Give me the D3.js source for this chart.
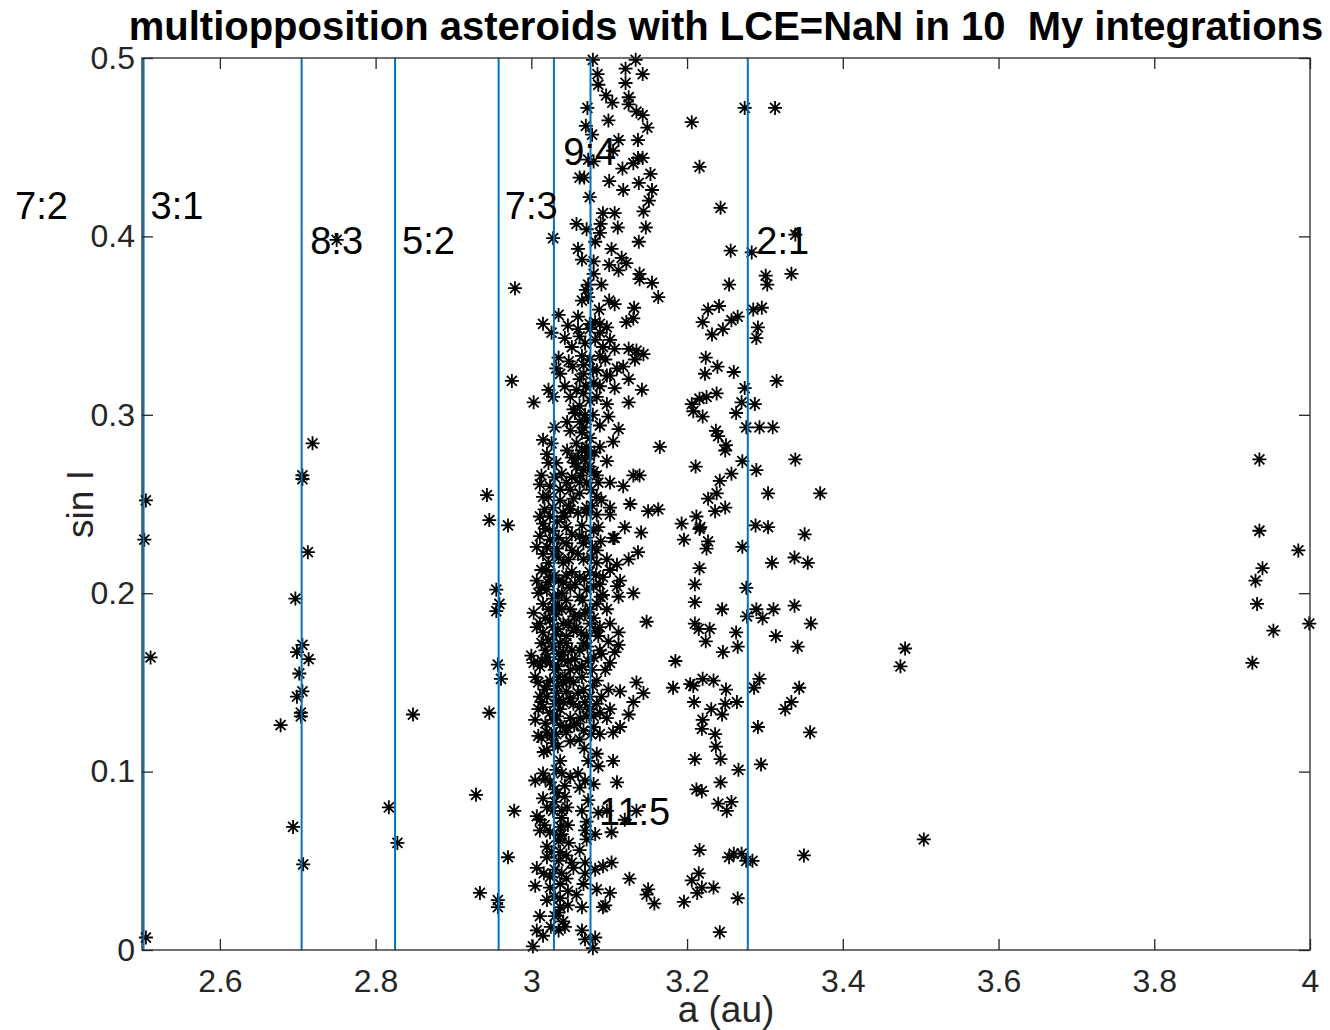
<!DOCTYPE html>
<html>
<head>
<meta charset="utf-8">
<script src="https://cdn.jsdelivr.net/npm/d3@7"></script>
<style>
  body { margin: 0; background: #fff; }
  text { font-family: "Liberation Sans", Arial, Helvetica, sans-serif; }
</style>
</head>
<body>
<div id="chart"></div>
<script>
// resonances: name, location of the line (au), where the label sits
var resNames = ["7:2", "3:1", "8:3", "5:2", "7:3", "9:4", "11:5", "2:1"]
var resA = [2.256, 2.502, 2.705, 2.825, 2.958, 3.029, 3.076, 3.278]
var resLabelA = [2.337, 2.511, 2.716, 2.834, 2.966, 3.041, 3.087, 3.289]
var resLabelS = [0.42, 0.42, 0.40, 0.40, 0.42, 0.45, 0.08, 0.40]

var xTicks = [2.6, 2.8, 3, 3.2, 3.4, 3.6, 3.8, 4]
var yTicks = [0, 0.1, 0.2, 0.3, 0.4, 0.5]

// [a, sin I]
var innerPts = [[2.719,0.284],[2.706,0.266],[2.706,0.264],[2.505,0.252],[2.503,0.230],[2.713,0.223],[2.697,0.197],[2.511,0.164],
  [2.706,0.171],[2.699,0.167],[2.714,0.163],[2.702,0.155],[2.706,0.145],[2.699,0.142],[2.704,0.133],[2.704,0.131],[2.678,0.126],
  [2.848,0.132],[2.817,0.080],[2.828,0.060],[2.694,0.069],[2.707,0.048],[2.505,0.007],[2.750,0.398]]

var gap73Pts = [[2.943,0.255],[2.946,0.241],[2.970,0.238],[2.955,0.202],[2.959,0.194],[2.955,0.190],[2.957,0.160],[2.961,0.152],
  [2.946,0.133],[2.929,0.087],[2.978,0.078],[2.970,0.052],[2.934,0.032],[2.957,0.028],[2.957,0.024],[2.979,0.371],[2.975,0.319],
  [3.003,0.307],[3.002,0.002]]

var clusterTop = [[3.079,0.499],[3.134,0.499],[3.121,0.494],[3.143,0.491],[3.085,0.491],[3.086,0.485],[3.121,0.486],[3.096,0.479],
  [3.104,0.475],[3.125,0.478],[3.125,0.474],[3.135,0.470],[3.143,0.468],[3.149,0.461],[3.072,0.472],[3.099,0.465],[3.070,0.462],
  [3.078,0.457],[3.112,0.454],[3.137,0.454],[3.105,0.448],[3.137,0.444],[3.143,0.444],[3.131,0.441],[3.080,0.442],[3.073,0.443],
  [3.117,0.438],[3.153,0.435],[3.062,0.433],[3.068,0.433],[3.100,0.431],[3.138,0.430],[3.118,0.426],[3.155,0.426],[3.075,0.422],
  [3.151,0.420],[3.144,0.414],[3.092,0.413],[3.107,0.413],[3.058,0.407],[3.089,0.407],[3.071,0.404],[3.111,0.405],[3.147,0.405],
  [3.088,0.402],[3.082,0.397],[3.028,0.399],[3.138,0.397],[3.060,0.393],[3.103,0.393],[3.065,0.387],[3.080,0.386],[3.116,0.388],
  [3.100,0.384],[3.122,0.385],[3.112,0.381],[3.080,0.379],[3.139,0.379],[3.139,0.376],[3.155,0.374],[3.090,0.373],[3.073,0.373],
  [3.163,0.366],[3.070,0.370],[3.073,0.366],[3.100,0.364],[3.107,0.362],[3.065,0.364],[3.132,0.360],[3.087,0.359],[3.035,0.356],
  [3.060,0.355],[3.015,0.351],[3.047,0.350],[3.082,0.352],[3.122,0.352],[3.131,0.354]]

var clusterUpper = [[3.026,0.346],[3.075,0.351],[3.088,0.351],[3.043,0.343],[3.062,0.344],[3.082,0.342],[3.101,0.342],[3.107,0.337],
  [3.052,0.338],[3.125,0.337],[3.135,0.336],[3.144,0.334],[3.065,0.333],[3.088,0.333],[3.035,0.332],[3.133,0.331],[3.095,0.331],
  [3.067,0.328],[3.118,0.327],[3.032,0.326],[3.084,0.325],[3.101,0.322],[3.062,0.320],[3.125,0.320],[3.080,0.318],[3.043,0.316],
  [3.107,0.315],[3.022,0.314],[3.142,0.314],[3.067,0.312],[3.028,0.310],[3.125,0.307],[3.097,0.306],[3.062,0.305],[3.056,0.301],
  [3.069,0.300],[3.099,0.299],[3.062,0.296],[3.088,0.294],[3.030,0.293],[3.112,0.292],[3.065,0.290],[3.075,0.287],[3.015,0.286],
  [3.105,0.285],[3.026,0.284],[3.165,0.282],[3.088,0.282],[3.065,0.280],[3.020,0.278],[3.075,0.277],[3.097,0.274],[3.056,0.273],
  [3.032,0.273],[3.067,0.269],[3.039,0.267],[3.013,0.266],[3.084,0.266],[3.131,0.266],[3.139,0.266],[3.101,0.262],[3.118,0.260],
  [3.011,0.261],[3.062,0.262],[3.037,0.258],[3.077,0.258],[3.022,0.254],[3.054,0.253],[3.090,0.252],[3.127,0.250],[3.071,0.248],
  [3.101,0.248],[3.150,0.246],[3.163,0.247],[3.011,0.243],[3.043,0.243],[3.060,0.245],[3.084,0.244],
  [3.054,0.303],[3.071,0.297],[3.050,0.291],[3.058,0.284],[3.071,0.282],[3.052,0.276],[3.069,0.275],[3.058,0.271],[3.075,0.271],
  [3.052,0.265],[3.071,0.262],[3.086,0.262],[3.050,0.258],[3.062,0.256],[3.037,0.252],[3.084,0.254],[3.028,0.248],[3.050,0.247],
  [3.022,0.273],[3.030,0.265],[3.024,0.260],[3.015,0.254],[3.037,0.323],[3.067,0.323],[3.075,0.331],[3.058,0.314],[3.075,0.308],
  [3.088,0.316],[3.097,0.322],[3.110,0.326],[3.075,0.348],[3.088,0.346],[3.060,0.348],[3.097,0.349],
  [3.120,0.237],[3.141,0.234],[3.137,0.223],[3.125,0.219],[3.107,0.231],[3.101,0.213],[3.114,0.207],[3.131,0.200]]

var clusterMid = [[3.148,0.184],[3.135,0.150],[3.144,0.144],[3.131,0.139],[3.112,0.198],[3.110,0.204],[3.088,0.205],[3.092,0.199],
  [3.101,0.183],[3.112,0.178],[3.112,0.171],[3.107,0.167],[3.101,0.161],[3.088,0.168],[3.086,0.176],[3.097,0.191],[3.084,0.194],
  [3.110,0.216],[3.097,0.219],[3.105,0.231],[3.086,0.237],[3.101,0.244],[3.084,0.224],[3.075,0.212],[3.067,0.219],[3.052,0.224],
  [3.062,0.232],[3.045,0.237],[3.015,0.239],[3.011,0.232],[3.020,0.226],[3.035,0.220],[3.013,0.213],[3.024,0.209],[3.045,0.210],
  [3.056,0.205],[3.062,0.198],[3.039,0.200],[3.020,0.202],[3.015,0.194],[3.030,0.192],[3.050,0.191],[3.062,0.187],[3.003,0.189],
  [3.024,0.185],[3.041,0.183],[3.075,0.183],[3.015,0.178],[3.032,0.177],[3.054,0.179],[3.071,0.176],[3.013,0.172],[3.028,0.170],
  [3.045,0.172],[3.062,0.168],[3.000,0.165],[3.020,0.164],[3.039,0.163],[3.056,0.163],[3.073,0.162],[3.011,0.159],[3.030,0.157],
  [3.050,0.157],[3.005,0.153],[3.024,0.151],[3.041,0.150],[3.065,0.153],[3.084,0.151],[3.009,0.150],[3.045,0.145],[3.067,0.146],
  [3.020,0.142],[3.032,0.144],[3.099,0.146],[3.114,0.145],[3.015,0.136],[3.037,0.135],[3.062,0.136],[3.084,0.138],[3.101,0.135],
  [3.005,0.129],[3.028,0.129],[3.050,0.130],[3.071,0.131],[3.097,0.130],[3.114,0.125],[3.125,0.132],[3.020,0.122],[3.045,0.122],
  [3.067,0.123],[3.088,0.121],[3.105,0.122],[3.009,0.120],
  [3.024,0.243],[3.028,0.235],[3.024,0.230],[3.028,0.222],[3.022,0.217],[3.030,0.210],[3.022,0.206],[3.028,0.197],[3.022,0.191],
  [3.032,0.188],[3.028,0.181],[3.022,0.174],[3.035,0.166],[3.024,0.161],[3.035,0.153],[3.020,0.148],[3.030,0.138],[3.024,0.133],
  [3.037,0.126],[3.026,0.120],[3.007,0.226],[3.007,0.207],[3.009,0.200],[3.007,0.181],[3.003,0.161],[3.011,0.142],[3.009,0.135],
  [3.071,0.245],[3.080,0.235],[3.067,0.228],[3.077,0.220],[3.084,0.217],[3.062,0.209],[3.071,0.202],[3.080,0.204],[3.075,0.191],
  [3.058,0.181],[3.082,0.179],[3.067,0.172],[3.080,0.164],[3.065,0.159],[3.054,0.150],[3.075,0.142],[3.054,0.138],[3.075,0.135],
  [3.058,0.127],[3.080,0.125],[3.041,0.245],[3.045,0.228],[3.041,0.217],[3.041,0.206],[3.045,0.196],[3.039,0.191],[3.045,0.176],
  [3.041,0.167],[3.043,0.153],[3.041,0.139],[3.045,0.125],[3.092,0.209],[3.099,0.173],[3.095,0.157],[3.090,0.142]]

// the solid black core around the 9:4 and 11:5 lines
var clusterCore = [[3.017,0.247],[3.033,0.240],[3.048,0.249],[3.065,0.238],[3.078,0.249],
  [3.018,0.236],[3.035,0.231],[3.052,0.233],[3.070,0.231],[3.089,0.229],
  [3.015,0.222],[3.033,0.225],[3.048,0.219],[3.060,0.222],[3.078,0.226],
  [3.019,0.213],[3.035,0.207],[3.052,0.212],[3.068,0.208],[3.083,0.210],
  [3.013,0.203],[3.034,0.199],[3.050,0.203],[3.066,0.196],[3.089,0.198],
  [3.018,0.186],[3.036,0.192],[3.055,0.187],[3.069,0.189],[3.080,0.186],
  [3.011,0.183],[3.034,0.180],[3.048,0.183],[3.064,0.178],[3.088,0.181],
  [3.018,0.168],[3.037,0.172],[3.052,0.168],[3.072,0.170],[3.090,0.166],
  [3.014,0.162],[3.034,0.159],[3.047,0.162],[3.062,0.158],[3.078,0.157],
  [3.017,0.146],[3.033,0.148],[3.049,0.151],[3.060,0.144],[3.079,0.148],
  [3.013,0.139],[3.035,0.140],[3.050,0.141],[3.069,0.139],[3.088,0.133],
  [3.018,0.127],[3.033,0.131],[3.055,0.126],[3.063,0.130],[3.080,0.131],
  [3.016,0.111],[3.034,0.114],[3.050,0.117],[3.068,0.113],
  [3.045,0.262],[3.063,0.266],[3.080,0.268],[3.046,0.280],[3.060,0.276],[3.081,0.279],[3.046,0.296],[3.067,0.293],
  [3.079,0.300],[3.050,0.310],[3.070,0.316],[3.084,0.310],[3.053,0.327],[3.079,0.325],[3.048,0.330],[3.069,0.340],[3.092,0.338],
  [3.018,0.096],[3.033,0.088],[3.050,0.097],[3.020,0.080],[3.046,0.080],[3.024,0.066],[3.047,0.070],[3.026,0.055],
  [3.048,0.060],[3.016,0.043],[3.045,0.040],[3.020,0.028],[3.047,0.025],[3.025,0.013]]

var clusterLow = [[3.185,0.162],[3.182,0.147],[3.204,0.149],[3.105,0.106],[3.110,0.094],[3.126,0.040],[3.150,0.034],[3.148,0.031],
  [3.158,0.026],[3.196,0.027],[3.120,0.073],[3.135,0.078],[3.103,0.066],[3.103,0.049],[3.092,0.047],[3.101,0.032],[3.092,0.024],
  [3.079,0.001],[3.086,0.077],[3.097,0.078],[3.082,0.065],[3.082,0.045],[3.084,0.034],[3.095,0.025],[3.082,0.007],[3.065,0.011],
  [3.069,0.006],[3.011,0.019],[3.007,0.011],[3.015,0.008],[3.035,0.021],[3.041,0.016],[3.035,0.011],[3.065,0.024],[3.058,0.031],
  [3.037,0.029],[3.024,0.035],[3.005,0.036],[3.037,0.037],[3.054,0.046],[3.069,0.043],[3.067,0.037],[3.007,0.046],[3.024,0.041],
  [3.039,0.043],[3.020,0.052],[3.035,0.050],[3.052,0.049],[3.069,0.049],[3.037,0.055],[3.045,0.053],[3.062,0.056],[3.020,0.058],
  [3.035,0.061],[3.071,0.062],[3.039,0.065],[3.037,0.069],[3.069,0.067],[3.011,0.067],[3.011,0.073],[3.017,0.070],[3.007,0.075],
  [3.039,0.074],[3.071,0.072],[3.065,0.078],[3.039,0.078],[3.028,0.078],[3.015,0.085],[3.030,0.083],[3.073,0.084],[3.005,0.095],
  [3.024,0.094],[3.043,0.092],[3.062,0.091],[3.080,0.093],[3.039,0.099],[3.060,0.099],[3.015,0.099],[3.069,0.095],[3.037,0.106],
  [3.073,0.106],[3.084,0.110],[3.086,0.103],[3.020,0.112],[3.013,0.119],[3.032,0.121],[3.062,0.118],[3.077,0.121],[3.043,0.086],
  [3.028,0.116],[3.032,0.101],[3.030,0.090],[3.037,0.064],[3.030,0.045],[3.030,0.030],[3.037,0.024],[3.047,0.033],[3.030,0.019],
  [3.043,0.013]]

var outerPts = [[3.193,0.239],[3.196,0.230],[3.206,0.464],[3.216,0.439],
  [3.274,0.472],[3.313,0.472],[3.243,0.416],[3.339,0.401],[3.256,0.392],[3.283,0.391],[3.301,0.378],[3.303,0.373],[3.334,0.379],
  [3.254,0.373],[3.227,0.359],[3.241,0.361],[3.220,0.352],[3.257,0.353],[3.265,0.355],[3.285,0.359],[3.296,0.360],[3.291,0.349],
  [3.289,0.343],[3.232,0.345],[3.246,0.348],[3.224,0.332],[3.223,0.323],[3.239,0.327],[3.260,0.324],[3.315,0.319],[3.274,0.315],
  [3.238,0.312],[3.206,0.306],[3.216,0.309],[3.225,0.310],[3.208,0.302],[3.220,0.299],[3.270,0.307],[3.287,0.306],[3.263,0.301],
  [3.276,0.293],[3.293,0.293],[3.310,0.293],[3.237,0.291],[3.240,0.288],[3.250,0.283],[3.249,0.280],[3.211,0.271],[3.271,0.274],
  [3.289,0.269],[3.339,0.275],[3.257,0.267],[3.242,0.263],[3.304,0.256],[3.371,0.256],[3.227,0.253],[3.238,0.256],[3.236,0.246],
  [3.249,0.248],[3.212,0.243],[3.288,0.238],[3.304,0.237],[3.217,0.237],
  [3.216,0.236],[3.227,0.229],[3.225,0.225],[3.271,0.226],[3.351,0.233],[3.309,0.217],[3.338,0.220],[3.355,0.217],[3.216,0.214],
  [3.210,0.205],[3.276,0.203],[3.210,0.195],[3.245,0.191],[3.277,0.187],[3.289,0.191],[3.297,0.186],[3.311,0.191],[3.338,0.193],
  [3.359,0.183],[3.210,0.183],[3.215,0.180],[3.229,0.180],[3.263,0.178],[3.224,0.173],[3.246,0.167],[3.265,0.170],[3.314,0.176],
  [3.342,0.170],[3.208,0.148],[3.220,0.152],[3.234,0.151],[3.250,0.146],[3.286,0.147],[3.293,0.152],[3.344,0.147],[3.209,0.139],
  [3.231,0.135],[3.249,0.138],[3.264,0.139],[3.245,0.132],[3.220,0.129],[3.219,0.124],[3.236,0.121],[3.237,0.114],[3.291,0.125],
  [3.326,0.135],[3.334,0.139],[3.358,0.122],[3.210,0.107],[3.243,0.107],[3.266,0.101],[3.295,0.104],[3.243,0.094],[3.212,0.090],
  [3.219,0.089],[3.240,0.082],[3.257,0.083],[3.251,0.078],[3.216,0.056],[3.254,0.052],[3.260,0.054],[3.270,0.054],[3.276,0.050],
  [3.284,0.050],[3.350,0.053],[3.215,0.043],[3.206,0.039],[3.219,0.035],[3.213,0.032],[3.234,0.035],[3.265,0.029],[3.242,0.010]]

var farPts = [[3.935,0.275],[3.935,0.235],[3.985,0.224],[3.939,0.214],[3.930,0.207],[3.932,0.194],[3.999,0.183],[3.953,0.179],
  [3.926,0.161],[3.480,0.169],[3.474,0.159],[3.504,0.062]]

var allPts = [].concat(innerPts, gap73Pts, clusterTop, clusterUpper, clusterMid, clusterCore, clusterLow, outerPts, farPts)

var W = 1330, H = 1030
var plotL = 142, plotR = 1310, plotT = 58, plotB = 950
var axisColor = "#262626"
var lineBlue = "#0072bd"

var svg = d3.select("#chart")
    .append("svg")
    .attr("width", W)
    .attr("height", H)

var x = d3.scaleLinear().domain([2.5, 4]).range([plotL, plotR])
var y = d3.scaleLinear().domain([0, 0.5]).range([plotB, plotT])

svg.append("defs").append("clipPath")
    .attr("id", "plotclip")
    .append("rect")
    .attr("x", plotL).attr("y", plotT)
    .attr("width", plotR - plotL).attr("height", plotB - plotT)

// asterisk marker like matlab's '*'
var star = "M-7,0H7M0,-7V7M-5,-5L5,5M-5,5L5,-5"

svg.append("g")
    .selectAll("path")
    .data(allPts)
    .enter()
    .append("path")
    .attr("d", star)
    .attr("transform", function(d){
        return "translate(" + x(d[0]) + "," + y(d[1]) + ")"
    })
    .attr("fill", "none")
    .attr("stroke", "#000")
    .attr("stroke-width", 1.8)

svg.append("g")
    .attr("clip-path", "url(#plotclip)")
    .selectAll("line")
    .data(resA)
    .enter()
    .append("line")
    .attr("x1", function(d){ return x(d) })
    .attr("x2", function(d){ return x(d) })
    .attr("y1", y(0))
    .attr("y2", y(0.5))
    .attr("stroke", lineBlue)
    .attr("stroke-width", 2)

var fmt = function(d){ return d3.format("~g")(d) }

svg.append("g")
    .attr("transform", "translate(0," + plotB + ")")
    .call(d3.axisBottom(x).tickValues(xTicks).tickFormat(fmt).tickSize(-11).tickSizeOuter(0).tickPadding(19))
svg.append("g")
    .attr("transform", "translate(0," + plotT + ")")
    .call(d3.axisTop(x).tickValues(xTicks).tickFormat("").tickSize(-11).tickSizeOuter(0))
svg.append("g")
    .attr("transform", "translate(" + plotL + ",0)")
    .call(d3.axisLeft(y).tickValues(yTicks).tickFormat(fmt).tickSize(-11).tickSizeOuter(0).tickPadding(7))
svg.append("g")
    .attr("transform", "translate(" + plotR + ",0)")
    .call(d3.axisRight(y).tickValues(yTicks).tickFormat("").tickSize(-11).tickSizeOuter(0))

svg.selectAll(".domain").remove()
svg.selectAll(".tick line").attr("stroke", axisColor).attr("stroke-width", 1.3)
svg.selectAll(".tick text")
    .attr("fill", axisColor)
    .style("font-size", "32px")
    .style("font-family", "'Liberation Sans', Arial, sans-serif")

svg.append("rect")
    .attr("x", plotL).attr("y", plotT)
    .attr("width", plotR - plotL).attr("height", plotB - plotT)
    .attr("fill", "none")
    .attr("stroke", axisColor)
    .attr("stroke-width", 1.3)

svg.append("g")
    .selectAll("text")
    .data(resNames)
    .enter()
    .append("text")
    .attr("x", function(d, i){ return x(resLabelA[i]) })
    .attr("y", function(d, i){ return y(resLabelS[i]) })
    .attr("dy", 18)
    .attr("font-size", "38px")
    .attr("fill", "#000")
    .text(function(d){ return d })

svg.append("text")
    .attr("x", (plotL + plotR) / 2)
    .attr("y", 40)
    .attr("text-anchor", "middle")
    .attr("font-size", "40px")
    .attr("font-weight", "bold")
    .attr("fill", "#000")
    .style("white-space", "pre")
    .text("multiopposition asteroids with LCE=NaN in 10  My integrations")

svg.append("text")
    .attr("x", (plotL + plotR) / 2)
    .attr("y", 1022)
    .attr("text-anchor", "middle")
    .attr("font-size", "37px")
    .attr("fill", axisColor)
    .text("a (au)")

svg.append("text")
    .attr("transform", "translate(93," + (plotT + plotB) / 2 + ") rotate(-90)")
    .attr("text-anchor", "middle")
    .attr("font-size", "37px")
    .attr("fill", axisColor)
    .text("sin I")
</script>
</body>
</html>
